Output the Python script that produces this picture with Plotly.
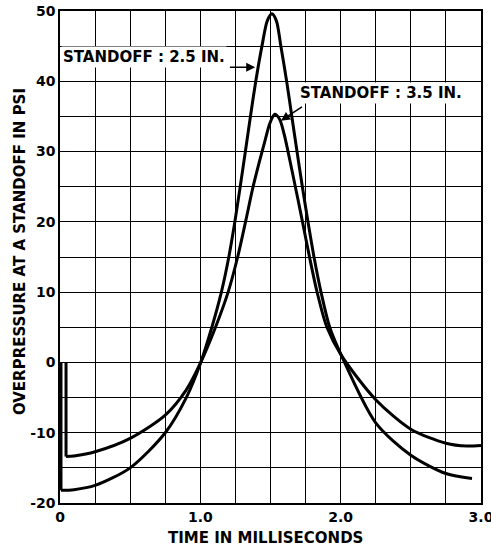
import plotly.graph_objects as go

# ---- data ----
# initial vertical drop of each trace (time, pressure)
drop_t_25 = [0.007, 0.007]
drop_p_25 = [0, -18.2]
drop_t_35 = [0.043, 0.043]
drop_p_35 = [0, -13.4]

t_25 = [0.007, 0.1, 0.25, 0.5, 0.75, 0.9, 1.003, 1.082, 1.15, 1.203, 1.246, 1.284,
        1.321, 1.357, 1.395, 1.439, 1.477, 1.51, 1.542, 1.574, 1.615, 1.652, 1.689, 1.727,
        1.767, 1.81, 1.86, 1.922, 2.005, 2.25, 2.5, 2.75, 2.936]
p_25 = [-18.2, -18.1, -17.5, -15.0, -10.0, -5.0, 0, 5, 10, 15, 20, 25,
        30, 35, 40, 45, 48.6, 49.6, 48.6, 45, 40, 35, 30, 25,
        20, 15, 10, 5, 1.0, -8.6, -13.2, -15.8, -16.5]

t_35 = [0.043, 0.1, 0.25, 0.5, 0.75, 0.9, 1.003, 1.108, 1.198, 1.266, 1.322, 1.376,
        1.42, 1.46, 1.495, 1.53, 1.565, 1.597, 1.625, 1.677, 1.728, 1.778, 1.832,
        1.902, 2.005, 2.25, 2.5, 2.75, 2.9, 3.0]
p_35 = [-13.4, -13.3, -12.7, -10.8, -7.5, -3.9, 0, 5, 10, 15, 20, 25,
        28.5, 31.5, 34.0, 35.3, 34.6, 32.5, 30, 25, 20, 15, 10,
        5, 1.0, -5.3, -9.5, -11.5, -11.9, -11.8]

x_grid = [i * 0.25 for i in range(13)]
x_labels = {0.0: "0", 1.0: "1.0", 2.0: "2.0", 3.0: "3.0"}
y_grid = list(range(-20, 51, 5))
y_labels = {50: "50", 40: "40", 30: "30", 20: "20", 10: "10", 0: "0", -10: "-10", -20: "-20"}

FONT = "DejaVu Sans"

fig = go.Figure()
for t, p in [(drop_t_25, drop_p_25), (drop_t_35, drop_p_35)]:
    fig.add_trace(go.Scatter(x=t, y=p, mode="lines",
                             line=dict(color="black", width=3),
                             showlegend=False, hoverinfo="skip"))
for t, p in [(t_25, p_25), (t_35, p_35)]:
    fig.add_trace(go.Scatter(x=t, y=p, mode="lines",
                             line=dict(color="black", width=3, shape="spline", smoothing=0.8),
                             showlegend=False, hoverinfo="skip"))

fig.update_layout(
    width=491, height=551,
    margin=dict(l=60, r=10, t=11, b=48, autoexpand=False),
    paper_bgcolor="white", plot_bgcolor="white",
    font=dict(family=FONT, color="black"),
)
fig.update_xaxes(
    range=[0, 3], tickmode="array", tickvals=x_grid,
    ticktext=[x_labels.get(v, "") for v in x_grid],
    showgrid=True, gridcolor="black", gridwidth=1.2,
    showline=True, linecolor="black", linewidth=1.5, mirror=True,
    ticks="", zeroline=False, ticklabeloverflow="allow", automargin=False,
    tickfont=dict(family=FONT, size=14, color="black", weight="bold"),
)
fig.update_yaxes(
    range=[-20, 50], tickmode="array", tickvals=y_grid,
    ticktext=[y_labels.get(v, "") for v in y_grid],
    showgrid=True, gridcolor="black", gridwidth=1.2,
    showline=True, linecolor="black", linewidth=1.5, mirror=True,
    ticks="", zeroline=False, automargin=False,
    tickfont=dict(family=FONT, size=14, color="black", weight="bold"),
)

# axis titles
fig.add_annotation(text="OVERPRESSURE AT A STANDOFF IN PSI", xref="paper", yref="paper",
                   x=-0.095, y=0.51, textangle=-90, showarrow=False,
                   font=dict(family=FONT, size=15, color="black", weight="bold"),
                   xanchor="center", yanchor="middle")
fig.add_annotation(text="TIME IN MILLISECONDS", xref="paper", yref="paper",
                   x=0.487, y=-0.072, showarrow=False,
                   font=dict(family=FONT, size=15, color="black", weight="bold"),
                   xanchor="center", yanchor="middle")

# curve labels
fig.add_annotation(text="STANDOFF : 2.5 IN.", x=0.6, y=43.4, showarrow=False,
                   bgcolor="white", borderpad=1,
                   font=dict(family=FONT, size=15, color="black", weight="bold"))
fig.add_annotation(text="STANDOFF : 3.5 IN.", x=2.29, y=38.3, showarrow=False,
                   bgcolor="white", borderpad=1,
                   font=dict(family=FONT, size=15, color="black", weight="bold"))
# arrows
fig.add_annotation(text="", x=1.391, y=42.0, ax=1.2, ay=42.0, axref="x", ayref="y",
                   showarrow=True, arrowhead=2, arrowsize=1.2, arrowwidth=1.5, arrowcolor="black")
fig.add_annotation(text="", x=1.574, y=34.4, ax=1.735, ay=36.5, axref="x", ayref="y",
                   showarrow=True, arrowhead=2, arrowsize=1.2, arrowwidth=1.5, arrowcolor="black")

fig.write_html("out.html")
